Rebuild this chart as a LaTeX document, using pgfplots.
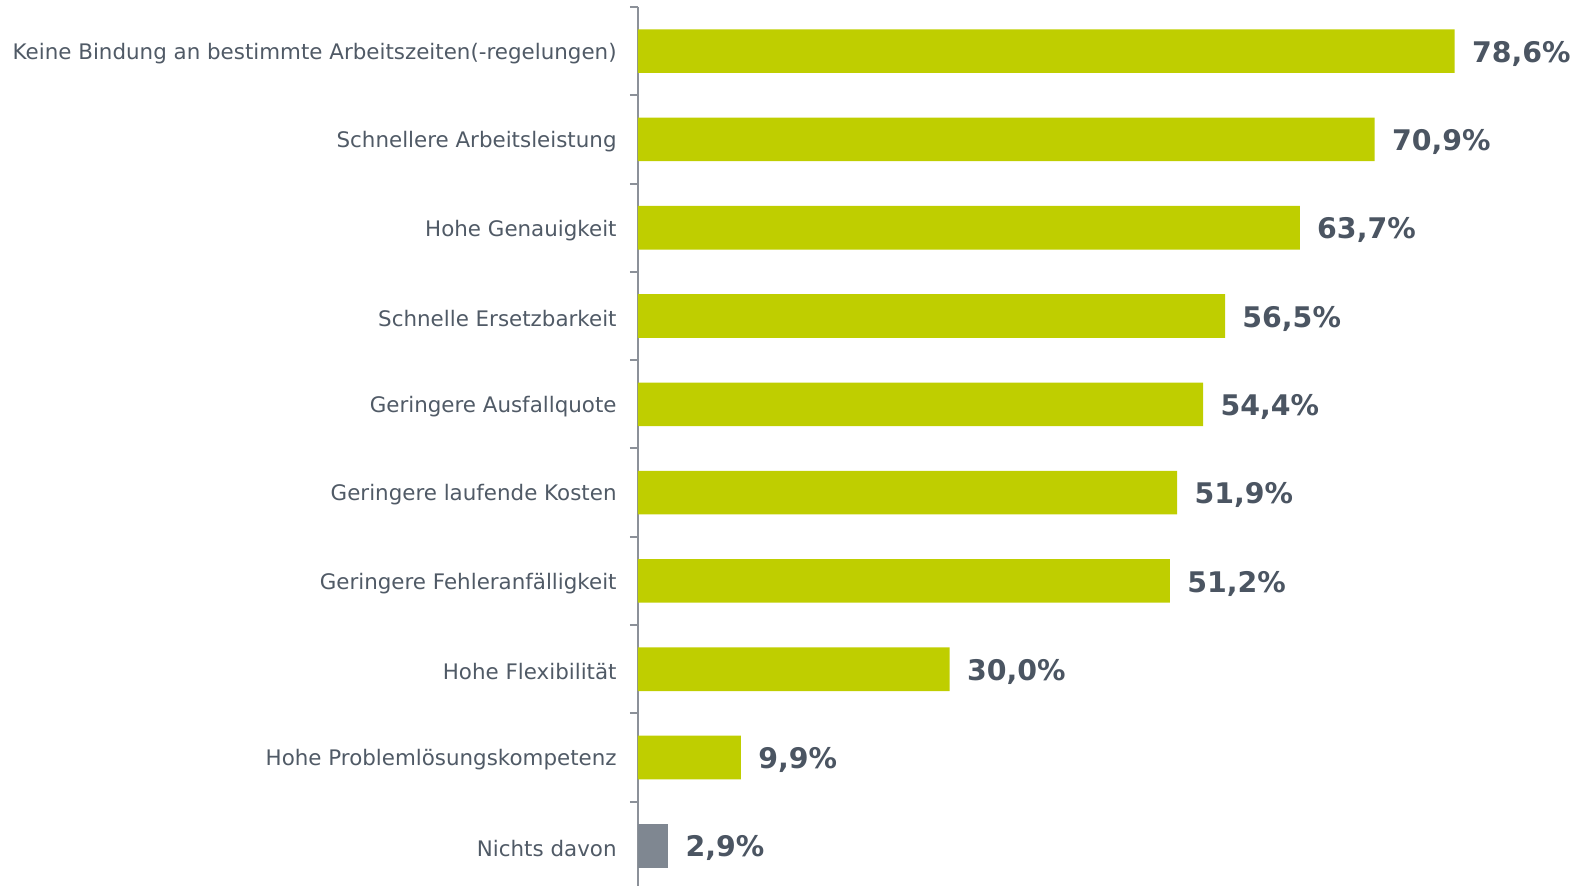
\documentclass[border=0pt]{standalone}
\usepackage{pgfplots}
\pgfplotsset{compat=1.18}
\usepackage{fontspec}
\setmainfont{DejaVu Sans}

\definecolor{barGreen}{RGB}{191,206,0}
\definecolor{barGray}{RGB}{127,135,145}
\definecolor{labelGray}{RGB}{80,90,102}
\definecolor{valGray}{RGB}{75,85,98}
\definecolor{axisGray}{RGB}{140,145,153}

\begin{document}
\begin{tikzpicture}
\begin{axis}[
    at={(0,0)}, anchor=south west,
    scale only axis,
    width=467.55pt, height=441.5pt,
    xbar, bar width=21.8pt, bar shift=0pt,
    xmin=0, xmax=90, ymin=-0.5, ymax=9.5,
    axis x line=none,
    axis y line*=left,
    y axis line style={-, axisGray, line width=1pt},
    ytick={0,...,9},
    yticklabels={Nichts davon, Hohe Problemlösungskompetenz, Hohe Flexibilität,
        Geringere Fehleranfälligkeit, Geringere laufende Kosten,
        Geringere Ausfallquote, Schnelle Ersetzbarkeit, Hohe Genauigkeit,
        Schnellere Arbeitsleistung, Keine Bindung an bestimmte Arbeitszeiten(-regelungen)},
    major tick length=0pt,
    minor ytick={0.5,1.5,...,9.5},
    minor tick length=4pt,
    tick align=outside,
    every tick/.style={axisGray, line width=1pt},
    y tick label style={font=\fontsize{10.7}{12}\selectfont, text=labelGray,
        anchor=east, inner sep=0pt, xshift=-10.5pt, yshift=-1.2pt},
    nodes near coords={\pgfmathprintnumber[fixed, fixed zerofill, precision=1,
        use comma, assume math mode=true]{\pgfplotspointmeta}\%},
    nodes near coords style={anchor=west, inner sep=0pt, xshift=8.5pt, yshift=-1.3pt,
        font=\fontsize{14.2}{16}\selectfont\bfseries, text=valGray},
    clip=false,
]
\addplot[fill=barGreen, draw=none] coordinates {
    (9.9,1) (30.0,2) (51.2,3) (51.9,4) (54.4,5)
    (56.5,6) (63.7,7) (70.9,8) (78.6,9)
};
\addplot[fill=barGray, draw=none] coordinates {(2.9,0)};
\end{axis}
\pgfresetboundingbox
\useasboundingbox (-319pt,2pt) rectangle (472.5pt,445pt);
\end{tikzpicture}
\end{document}
